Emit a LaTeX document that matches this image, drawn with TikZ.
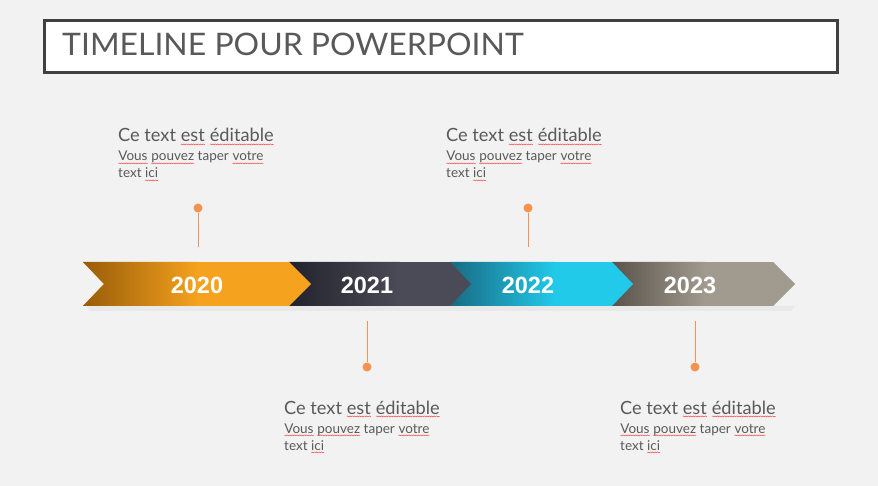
\documentclass[tikz,border=0pt]{standalone}
\usepackage{fontspec}
\setmainfont{Lato}
\newfontfamily\yearfont{Liberation Sans}
\usetikzlibrary{decorations.pathmorphing}
\definecolor{bg}{HTML}{F2F2F2}
\definecolor{titlegray}{HTML}{595959}
\definecolor{boxgray}{HTML}{404040}
\definecolor{txtgray}{HTML}{595959}
\definecolor{pin}{HTML}{F4924F}
\definecolor{oA}{HTML}{985C08}\definecolor{oB}{HTML}{F5A21E}
\definecolor{gA}{HTML}{22232B}\definecolor{gB}{HTML}{4B4A57}
\definecolor{cA}{HTML}{196A83}\definecolor{cB}{HTML}{21CAE9}
\definecolor{tA}{HTML}{5A534B}\definecolor{tB}{HTML}{A19A8E}
\newcommand\squig[1]{\tikz[baseline=(w.base)]{\node[inner sep=0pt,outer sep=0pt,anchor=base](w){#1};\draw[red!85,line width=0.35pt,decorate,decoration={snake,amplitude=0.5pt,segment length=2.4pt}]([yshift=-2.4pt]w.base west)--([yshift=-2.4pt]w.base east);}}
\tikzset{
  yearlbl/.style={font=\yearfont\bfseries\fontsize{23.5}{23.5}\selectfont,text=white,inner sep=0pt},
  headtxt/.style={font=\fontsize{18.2}{20}\selectfont,text=txtgray,anchor=base west,inner sep=0pt},
  subtxt/.style={font=\fontsize{13.5}{16}\selectfont,text=txtgray,anchor=base west,inner sep=0pt},
  pinline/.style={draw=pin,line width=1pt},
  pindot/.style={circle,fill=pin,inner sep=0pt,minimum size=9pt},
}
\begin{document}
\begin{tikzpicture}[x=1pt,y=-1pt]
\useasboundingbox (0,0) rectangle (878,486);
\fill[bg] (0,0) rectangle (878,486);
% title
\node[draw=boxgray,line width=3pt,fill=white,minimum width=793pt,minimum height=52pt,anchor=north west,inner sep=0pt] (titlebox) at (43,19) {};
\node[anchor=west,text=titlegray,inner sep=0pt,font=\fontsize{31}{31}\selectfont] (title) at (62,44) {\scalebox{1.03}[1]{TIMELINE POUR POWERPOINT}};
% shadow
\fill[black,opacity=0.035] (86,306) -- (795,306) -- (791,311) -- (90,311) -- cycle;
% chevron 4
\begin{scope}
\clip (612,262) -- (773,262) -- (795,284) -- (773,306) -- (612,306) -- cycle;
\fill[tB] (600,262) rectangle (800,306);
\shade[left color=tA,right color=tB] (612,262) rectangle (705,306);
\end{scope}
% chevron 3
\begin{scope}
\clip (450,262) -- (612,262) -- (633,284) -- (612,306) -- (450,306) -- cycle;
\fill[cB] (440,262) rectangle (640,306);
\shade[left color=cA,right color=cB] (450,262) rectangle (555,306);
\end{scope}
% chevron 2
\begin{scope}
\clip (289,262) -- (450,262) -- (471,284) -- (450,306) -- (289,306) -- cycle;
\fill[gB] (280,262) rectangle (480,306);
\shade[left color=gA,right color=gB] (289,262) rectangle (400,306);
\end{scope}
% chevron 1
\begin{scope}
\clip (83,262) -- (289,262) -- (311,284) -- (289,306) -- (83,306) -- (104,284) -- cycle;
\fill[oB] (80,262) rectangle (320,306);
\shade[left color=oA,right color=oB] (83,262) rectangle (198,306);
\end{scope}
% years
\node[yearlbl] (y2020) at (197,285) {2020};
\node[yearlbl] (y2021) at (367,285) {2021};
\node[yearlbl] (y2022) at (528,285) {2022};
\node[yearlbl] (y2023) at (690,285) {2023};
% pins
\node[pindot] (p1) at (198,208) {};
\coordinate (p1e) at (198,247);
\draw[pinline] (p1) -- (p1e);
\node[pindot] (p3) at (528,208) {};
\coordinate (p3e) at (528,247);
\draw[pinline] (p3) -- (p3e);
\node[pindot] (p2) at (367,367) {};
\coordinate (p2s) at (367,321);
\draw[pinline] (p2s) -- (p2);
\node[pindot] (p4) at (695,367) {};
\coordinate (p4s) at (695,321);
\draw[pinline] (p4s) -- (p4);
% texts
\node[headtxt] (h1) at (118,142) {Ce text \squig{est} \squig{éditable}};
\node[subtxt] (s1a) at (118,161) {\squig{Vous} \squig{pouvez} taper \squig{votre}};
\node[subtxt] (s1b) at (118,178) {text \squig{ici}};
\node[headtxt] (h3) at (446,142) {Ce text \squig{est} \squig{éditable}};
\node[subtxt] (s3a) at (446,161) {\squig{Vous} \squig{pouvez} taper \squig{votre}};
\node[subtxt] (s3b) at (446,178) {text \squig{ici}};
\node[headtxt] (h2) at (284,414) {Ce text \squig{est} \squig{éditable}};
\node[subtxt] (s2a) at (284,433) {\squig{Vous} \squig{pouvez} taper \squig{votre}};
\node[subtxt] (s2b) at (284,450) {text \squig{ici}};
\node[headtxt] (h4) at (620,414) {Ce text \squig{est} \squig{éditable}};
\node[subtxt] (s4a) at (620,433) {\squig{Vous} \squig{pouvez} taper \squig{votre}};
\node[subtxt] (s4b) at (620,450) {text \squig{ici}};
\end{tikzpicture}
\end{document}
